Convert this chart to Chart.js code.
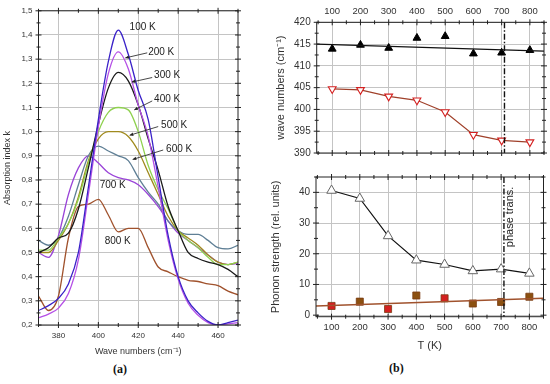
<!DOCTYPE html>
<html>
<head>
<meta charset="utf-8">
<script src="https://cdn.jsdelivr.net/npm/chart.js@4.4.1/dist/chart.umd.min.js"></script>
<style>
  body { margin: 0; width: 550px; height: 384px; background: #fff; position: relative; overflow: hidden; }
  canvas { position: absolute; }
  .tag { position: absolute; font: bold 12px "Liberation Serif", serif; color: #111; }
</style>
</head>
<body>
<canvas id="spectra" width="245" height="360" style="left:0;top:0"></canvas>
<canvas id="modes" width="300" height="165" style="left:250px;top:0"></canvas>
<canvas id="strength" width="300" height="195" style="left:250px;top:165px"></canvas>
<div class="tag" style="left:113px;top:362px">(a)</div>
<div class="tag" style="left:389px;top:361px">(b)</div>
<script>
// (a) absorption spectra
const waveNumbers = [370, 375, 380, 385, 390, 395, 400, 405, 410, 415, 420, 425, 430, 435, 440, 445, 450, 455, 460, 465, 470];
const k100 = [0.26, 0.28, 0.31, 0.37, 0.50, 0.77, 1.05, 1.29, 1.42, 1.32, 1.17, 1.05, 0.81, 0.57, 0.40, 0.30, 0.25, 0.215, 0.20, 0.21, 0.22];
const k200 = [0.23, 0.245, 0.27, 0.33, 0.47, 0.74, 1.02, 1.24, 1.33, 1.26, 1.11, 0.98, 0.77, 0.55, 0.39, 0.29, 0.24, 0.21, 0.20, 0.205, 0.21];
const k300 = [0.50, 0.52, 0.56, 0.58, 0.68, 0.85, 1.03, 1.18, 1.245, 1.21, 1.11, 0.97, 0.84, 0.69, 0.59, 0.50, 0.475, 0.46, 0.45, 0.43, 0.40];
const k400 = [0.51, 0.51, 0.56, 0.62, 0.72, 0.87, 1.00, 1.08, 1.10, 1.09, 1.00, 0.86, 0.76, 0.68, 0.59, 0.55, 0.52, 0.48, 0.45, 0.45, 0.46];
const k500 = [0.50, 0.50, 0.55, 0.62, 0.73, 0.88, 0.97, 1.00, 1.00, 0.98, 0.92, 0.83, 0.74, 0.65, 0.59, 0.56, 0.53, 0.49, 0.46, 0.45, 0.46];
const k600 = [0.55, 0.53, 0.56, 0.65, 0.78, 0.90, 0.94, 0.92, 0.90, 0.88, 0.81, 0.75, 0.70, 0.63, 0.59, 0.575, 0.575, 0.55, 0.52, 0.515, 0.53];
const k700 = [0.50, 0.48, 0.57, 0.74, 0.85, 0.90, 0.87, 0.83, 0.81, 0.80, 0.78, 0.74, 0.69, 0.63, 0.58, 0.55, 0.52, 0.49, 0.46, 0.45, 0.455];
const k800 = [0.32, 0.26, 0.32, 0.56, 0.69, 0.70, 0.72, 0.655, 0.585, 0.60, 0.60, 0.52, 0.44, 0.42, 0.40, 0.385, 0.38, 0.37, 0.363, 0.34, 0.325];
const spectraNames = ['100 K', '200 K', '300 K', '400 K', '500 K', '600 K', '700 K', '800 K'];
const waveTicks = [380, 400, 420, 440, 460];
const kTicks = [0.2, 0.3, 0.4, 0.5, 0.6, 0.7, 0.8, 0.9, 1.0, 1.1, 1.2, 1.3, 1.4, 1.5];

// (b) mode positions and strengths vs temperature
const temps = [100, 200, 300, 400, 500, 600, 700, 800];
const modeHigh = [413.9, 414.8, 414.1, 416.4, 416.8, 412.8, 413.0, 413.6];
const modeLow = [404.7, 404.5, 403.0, 402.1, 399.4, 394.2, 392.9, 392.5];
const fitT = [45, 850];
const modeHighFit = [415.0, 413.4];
const strengthLow = [40.6, 38.0, 25.8, 17.9, 16.5, 14.4, 15.0, 13.6];
const strengthHigh = [3.0, 4.4, 2.0, 6.4, 5.5, 3.8, 4.3, 6.0];
const strengthHighFit = [3.0, 5.5];
const phaseT = 710;
const modeTicks = [390, 395, 400, 405, 410, 415, 420];
const strengthTicks = [0, 10, 20, 30, 40];

const spectraColors = ['#3a22c8', '#b550e6', '#1a1a1a', '#8fd14f', '#a08a1e', '#5f7f95', '#9a44d8', '#a0522d'];
const squareColors = ['#d42020', '#8b5010', '#d42020', '#8b5010', '#d42020', '#8b5010', '#8b5010', '#8b5010'];
const gridColor = '#c4c4c4';
const sans = '"Liberation Sans", Arial, sans-serif';

const xy = (xs, ys) => xs.map((x, i) => ({ x: x, y: ys[i] }));
const fixTicks = list => scale => { scale.ticks = list.map(v => ({ value: v })); };

// box round the plot with ticks crossing each side
const framePlugin = {
  id: 'frame',
  afterDraw(chart, args, opts) {
    const { ctx, chartArea: a, scales } = chart;
    const x = scales.x, y = scales.y;
    ctx.save();
    ctx.strokeStyle = '#222';
    ctx.lineWidth = 1;
    ctx.strokeRect(a.left, a.top, a.right - a.left, a.bottom - a.top);
    const mark = (px, py, len, horiz) => {
      ctx.beginPath();
      if (horiz) { ctx.moveTo(px, py - len); ctx.lineTo(px, py + len); }
      else { ctx.moveTo(px - len, py); ctx.lineTo(px + len, py); }
      ctx.stroke();
    };
    const steps = (min, max, step) => {
      const out = [];
      for (let v = Math.ceil(min / step - 1e-9) * step; v <= max + 1e-9; v += step) out.push(v);
      return out;
    };
    steps(x.min, x.max, opts.xMinor).forEach(v => {
      const px = x.getPixelForValue(v);
      const major = x.ticks.some(t => Math.abs(t.value - v) < 1e-6);
      mark(px, a.bottom, major ? 3 : 2, true);
      mark(px, a.top, major ? 3 : 2, true);
    });
    steps(y.min, y.max, opts.yMinor).forEach(v => {
      const py = y.getPixelForValue(v);
      const major = y.ticks.some(t => Math.abs(t.value - v) < 1e-6);
      mark(a.left, py, major ? 3 : 2, false);
      mark(a.right, py, major ? 3 : 2, false);
    });
    ctx.restore();
  }
};

// temperature labels with arrows on the spectra
const spectraNotes = [
  { text: '100 K', at: [422.2, 1.43] },
  { text: '200 K', at: [431.5, 1.33], from: [424.5, 1.326], to: [413.5, 1.305] },
  { text: '300 K', at: [434.5, 1.235], from: [427.0, 1.224], to: [416.7, 1.205] },
  { text: '400 K', at: [434.5, 1.135], from: [427.0, 1.127], to: [418.0, 1.09] },
  { text: '500 K', at: [438.0, 1.025], from: [430.0, 1.021], to: [415.7, 0.985] },
  { text: '600 K', at: [440.5, 0.928], from: [432.5, 0.924], to: [417.2, 0.885] },
  { text: '700 K', at: [407.2, 0.777] },
  { text: '800 K', at: [409.7, 0.546] }
];
const notesPlugin = {
  id: 'notes',
  afterDatasetsDraw(chart) {
    const { ctx, scales: { x, y } } = chart;
    ctx.save();
    ctx.font = '10px ' + sans;
    ctx.fillStyle = '#222';
    ctx.strokeStyle = '#333';
    ctx.lineWidth = 0.9;
    ctx.textAlign = 'center';
    ctx.textBaseline = 'middle';
    spectraNotes.forEach(n => {
      ctx.fillText(n.text, x.getPixelForValue(n.at[0]), y.getPixelForValue(n.at[1]));
      if (!n.from) return;
      const x0 = x.getPixelForValue(n.from[0]), y0 = y.getPixelForValue(n.from[1]);
      const x1 = x.getPixelForValue(n.to[0]), y1 = y.getPixelForValue(n.to[1]);
      ctx.beginPath(); ctx.moveTo(x0, y0); ctx.lineTo(x1, y1); ctx.stroke();
      const ang = Math.atan2(y1 - y0, x1 - x0);
      ctx.beginPath();
      ctx.moveTo(x1, y1);
      ctx.lineTo(x1 - 4 * Math.cos(ang - 0.45), y1 - 4 * Math.sin(ang - 0.45));
      ctx.lineTo(x1 - 4 * Math.cos(ang + 0.45), y1 - 4 * Math.sin(ang + 0.45));
      ctx.closePath();
      ctx.fill();
    });
    ctx.restore();
  }
};

// dash-dot line at the phase transition
const phasePlugin = {
  id: 'phase',
  afterDatasetsDraw(chart, args, opts) {
    const { ctx, chartArea: a, scales: { x, y } } = chart;
    const px = x.getPixelForValue(phaseT);
    ctx.save();
    ctx.strokeStyle = '#111';
    ctx.lineWidth = 1.4;
    ctx.setLineDash([6, 2, 1.5, 2]);
    ctx.beginPath(); ctx.moveTo(px, a.top); ctx.lineTo(px, a.bottom); ctx.stroke();
    ctx.setLineDash([]);
    if (opts.label) {
      ctx.translate(x.getPixelForValue(731), y.getPixelForValue(32));
      ctx.rotate(-Math.PI / 2);
      ctx.font = '11px ' + sans;
      ctx.fillStyle = '#222';
      ctx.textAlign = 'center';
      ctx.textBaseline = 'middle';
      ctx.fillText(opts.label, 0, 0);
    }
    ctx.restore();
  }
};

const spectraSeries = [k100, k200, k300, k400, k500, k600, k700, k800];

new Chart(document.getElementById('spectra'), {
  type: 'line',
  data: {
    datasets: spectraSeries.map((ks, i) => ({
      label: spectraNames[i],
      data: xy(waveNumbers, ks),
      borderColor: spectraColors[i],
      borderWidth: 1.3,
      pointRadius: 0,
      cubicInterpolationMode: 'monotone'
    }))
  },
  options: {
    responsive: false,
    animation: false,
    layout: { padding: { top: 7, right: 7, left: 0, bottom: 0 } },
    plugins: { legend: { display: false }, tooltip: { enabled: false }, frame: { xMinor: 10, yMinor: 0.05 } },
    scales: {
      x: {
        type: 'linear', min: 370, max: 470,
        afterBuildTicks: fixTicks(waveTicks),
        afterFit: s => { s.height = 35; },
        grid: { color: gridColor, drawTicks: false },
        border: { display: false },
        ticks: { padding: 6, color: '#333', font: { size: 8, family: sans } },
        title: { display: true, text: 'Wave numbers (cm\u207B\u00B9)', color: '#333', font: { size: 9, family: sans }, padding: { bottom: 3 } }
      },
      y: {
        min: 0.2, max: 1.5,
        afterBuildTicks: fixTicks(kTicks),
        afterFit: s => { s.width = 38.5; },
        grid: { color: gridColor, drawTicks: false },
        border: { display: false },
        ticks: { padding: 6, color: '#333', font: { size: 8, family: sans }, callback: v => v.toFixed(1).replace('.', ',') },
        title: { display: true, text: 'Absorption index k', color: '#333', font: { size: 9, family: sans }, padding: { top: 2 } }
      }
    }
  },
  plugins: [framePlugin, notesPlugin]
});

new Chart(document.getElementById('modes'), {
  type: 'line',
  data: {
    datasets: [
      { data: xy(fitT, modeHighFit), borderColor: '#111', borderWidth: 1.2, pointRadius: 0 },
      { data: xy(temps, modeHigh), showLine: false, pointStyle: 'triangle', pointRadius: 4.5,
        pointBackgroundColor: '#000', pointBorderColor: '#000' },
      { data: xy(temps, modeLow), borderColor: '#a0402a', borderWidth: 1.2, pointStyle: 'triangle', pointRotation: 180,
        pointRadius: 4.5, pointBackgroundColor: '#fff', pointBorderColor: '#d42020', pointBorderWidth: 1.1 }
    ]
  },
  options: {
    responsive: false,
    animation: false,
    layout: { padding: { top: 0, right: 6, left: 0, bottom: 5.7 } },
    plugins: { legend: { display: false }, tooltip: { enabled: false }, frame: { xMinor: 50, yMinor: 2.5 }, phase: {} },
    scales: {
      x: {
        type: 'linear', position: 'top', min: 45, max: 850,
        afterBuildTicks: fixTicks(temps),
        afterFit: s => { s.height = 22.3; },
        grid: { color: gridColor, drawTicks: false },
        border: { display: false },
        ticks: { padding: 5, color: '#333', font: { size: 9.5, family: sans } }
      },
      y: {
        min: 390, max: 420,
        afterBuildTicks: fixTicks(modeTicks),
        afterFit: s => { s.width = 66.7; },
        grid: { color: gridColor, drawTicks: false },
        border: { display: false },
        ticks: { padding: 6, color: '#333', font: { size: 10, family: sans } },
        title: { display: true, text: 'wave numbers (cm\u207B\u00B9)', color: '#333', font: { size: 11, family: sans }, padding: { top: 24 } }
      }
    }
  },
  plugins: [framePlugin, phasePlugin]
});

new Chart(document.getElementById('strength'), {
  type: 'line',
  data: {
    datasets: [
      { data: xy(temps, strengthLow), borderColor: '#111', borderWidth: 1.2, pointStyle: 'triangle',
        pointRadius: 5.5, pointBackgroundColor: '#fff', pointBorderColor: '#666', pointBorderWidth: 1 },
      { data: xy(fitT, strengthHighFit), borderColor: '#a0522d', borderWidth: 1.5, pointRadius: 0 },
      { data: xy(temps, strengthHigh), showLine: false, pointStyle: 'rect', pointRadius: 5,
        pointBackgroundColor: squareColors, pointBorderColor: '#7a3a10', pointBorderWidth: 0.8 }
    ]
  },
  options: {
    responsive: false,
    animation: false,
    layout: { padding: { top: 11, right: 6, left: 0, bottom: 0 } },
    plugins: { legend: { display: false }, tooltip: { enabled: false }, frame: { xMinor: 50, yMinor: 5 }, phase: { label: 'phase trans.' } },
    scales: {
      x: {
        type: 'linear', min: 45, max: 850,
        afterBuildTicks: fixTicks(temps),
        afterFit: s => { s.height = 43.3; },
        grid: { color: gridColor, drawTicks: false },
        border: { display: false },
        ticks: { padding: 5, color: '#333', font: { size: 9.5, family: sans } },
        title: { display: true, text: 'T (K)', color: '#333', font: { size: 11, family: sans }, padding: { bottom: 7.5 } }
      },
      y: {
        min: -0.5, max: 45,
        afterBuildTicks: fixTicks(strengthTicks),
        afterFit: s => { s.width = 66; },
        grid: { color: gridColor, drawTicks: false },
        border: { display: false },
        ticks: { padding: 6, color: '#333', font: { size: 10, family: sans } },
        title: { display: true, text: 'Phonon strength (rel. units)', color: '#333', font: { size: 11, family: sans }, padding: { top: 19.5 } }
      }
    }
  },
  plugins: [framePlugin, phasePlugin]
});
</script>
</body>
</html>
